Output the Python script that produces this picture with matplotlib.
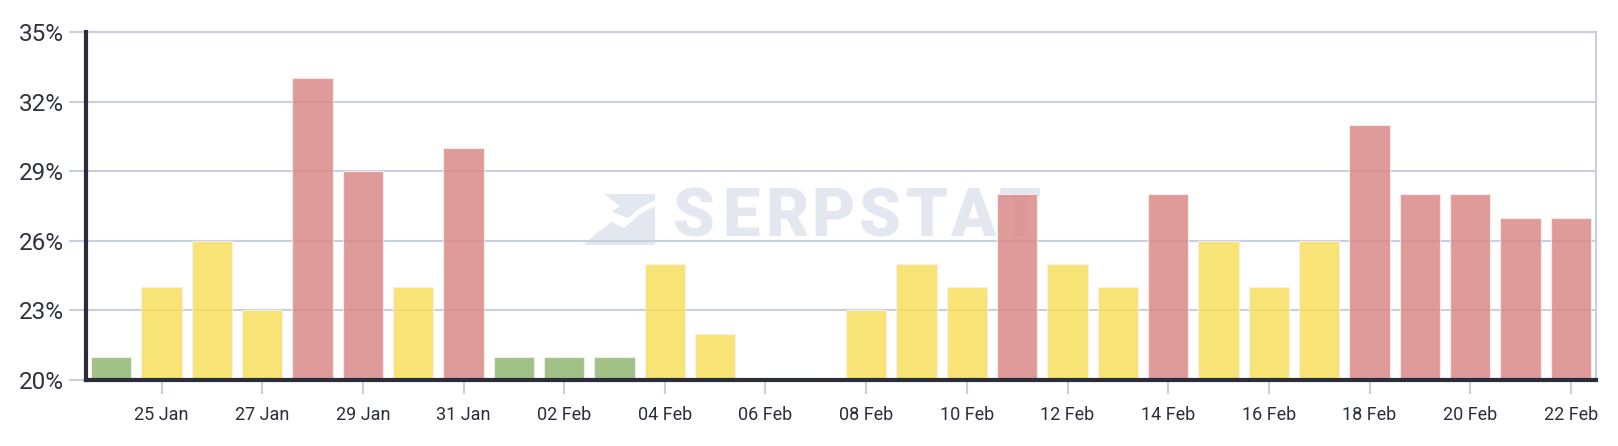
import numpy as np
import matplotlib.pyplot as plt
from matplotlib.patches import Polygon

plt.rcParams['font.family'] = ['Roboto', 'DejaVu Sans']

days = ['24 Jan', '25 Jan', '26 Jan', '27 Jan', '28 Jan', '29 Jan', '30 Jan', '31 Jan',
        '01 Feb', '02 Feb', '03 Feb', '04 Feb', '05 Feb', '06 Feb', '07 Feb', '08 Feb',
        '09 Feb', '10 Feb', '11 Feb', '12 Feb', '13 Feb', '14 Feb', '15 Feb', '16 Feb',
        '17 Feb', '18 Feb', '19 Feb', '20 Feb', '21 Feb', '22 Feb']
values = [21, 24, 26, 23, 33, 29, 24, 30,
          21, 21, 21, 25, 22, 20, 20, 23,
          25, 24, 28, 25, 24, 28, 26, 24,
          26, 31, 28, 28, 27, 27]
levels = ['g', 'y', 'y', 'y', 'r', 'r', 'y', 'r',
          'g', 'g', 'g', 'y', 'y', None, None, 'y',
          'y', 'y', 'r', 'y', 'y', 'r', 'y', 'y',
          'y', 'r', 'r', 'r', 'r', 'r']
yticks = [20, 23, 26, 29, 32, 35]

palette = {'g': '#8fb872', 'y': '#f7df5e', 'r': '#da8a88'}
grid_c = '#c9d0dd'
dark = '#2b2d38'

fig = plt.figure(figsize=(16.18, 4.46), dpi=100)
ax = fig.add_axes([86/1618, 1-380/446, (1596-86)/1618, (380-32)/446])

x = np.arange(len(days))
for i, (v, lv) in enumerate(zip(values, levels)):
    if lv is None:
        continue
    ax.bar(x[i], v - 20, bottom=20, width=0.8, color=palette[lv], alpha=0.85,
           edgecolor='#fbeeee', linewidth=0.8, zorder=3)

ax.set_xlim(-0.5, len(days) - 0.5)
ax.set_ylim(20, 35)
ax.set_yticks(yticks)
ax.set_yticklabels([f'{t}%' for t in yticks], fontsize=17.5, color='#30323c')
ax.yaxis.grid(True, color=grid_c, linewidth=1.5)
ax.set_axisbelow(True)
ax.tick_params(axis='y', length=12, width=1.5, color=grid_c, pad=4)

ax.set_xticks(x[1::2])
ax.set_xticklabels(days[1::2], fontsize=13, color=dark)
ax.tick_params(axis='x', length=10, width=1.5, color=grid_c, pad=9)

for s in ['top', 'right']:
    ax.spines[s].set_color(grid_c)
    ax.spines[s].set_linewidth(1.5)
for s in ['left', 'bottom']:
    ax.spines[s].set_color(dark)
    ax.spines[s].set_linewidth(3)
    ax.spines[s].set_zorder(5)

# watermark behind grid and bars
wm = '#e2e7f0'
for k, ch in enumerate('SERPSTAT'):
    px = 694 + k * 46.5
    ax.text(px / 1618, 1 - 218 / 446, ch, transform=fig.transFigure,
            fontsize=48, fontweight='black', color=wm, ha='center', va='center',
            zorder=0.2)
shapes = [
    [[583, 245], [598, 232], [612, 222], [624, 228], [640, 214], [655, 206], [655, 245]],
    [[604, 194], [655, 194], [655, 200], [640, 208], [628, 218], [612, 212], [620, 206]],
]
for pts in shapes:
    p = Polygon([[px, 446 - py] for px, py in pts], closed=True, transform=None,
                facecolor=wm, edgecolor='none', zorder=0.2)
    ax.add_patch(p)

fig.savefig('out.png', dpi=100)
